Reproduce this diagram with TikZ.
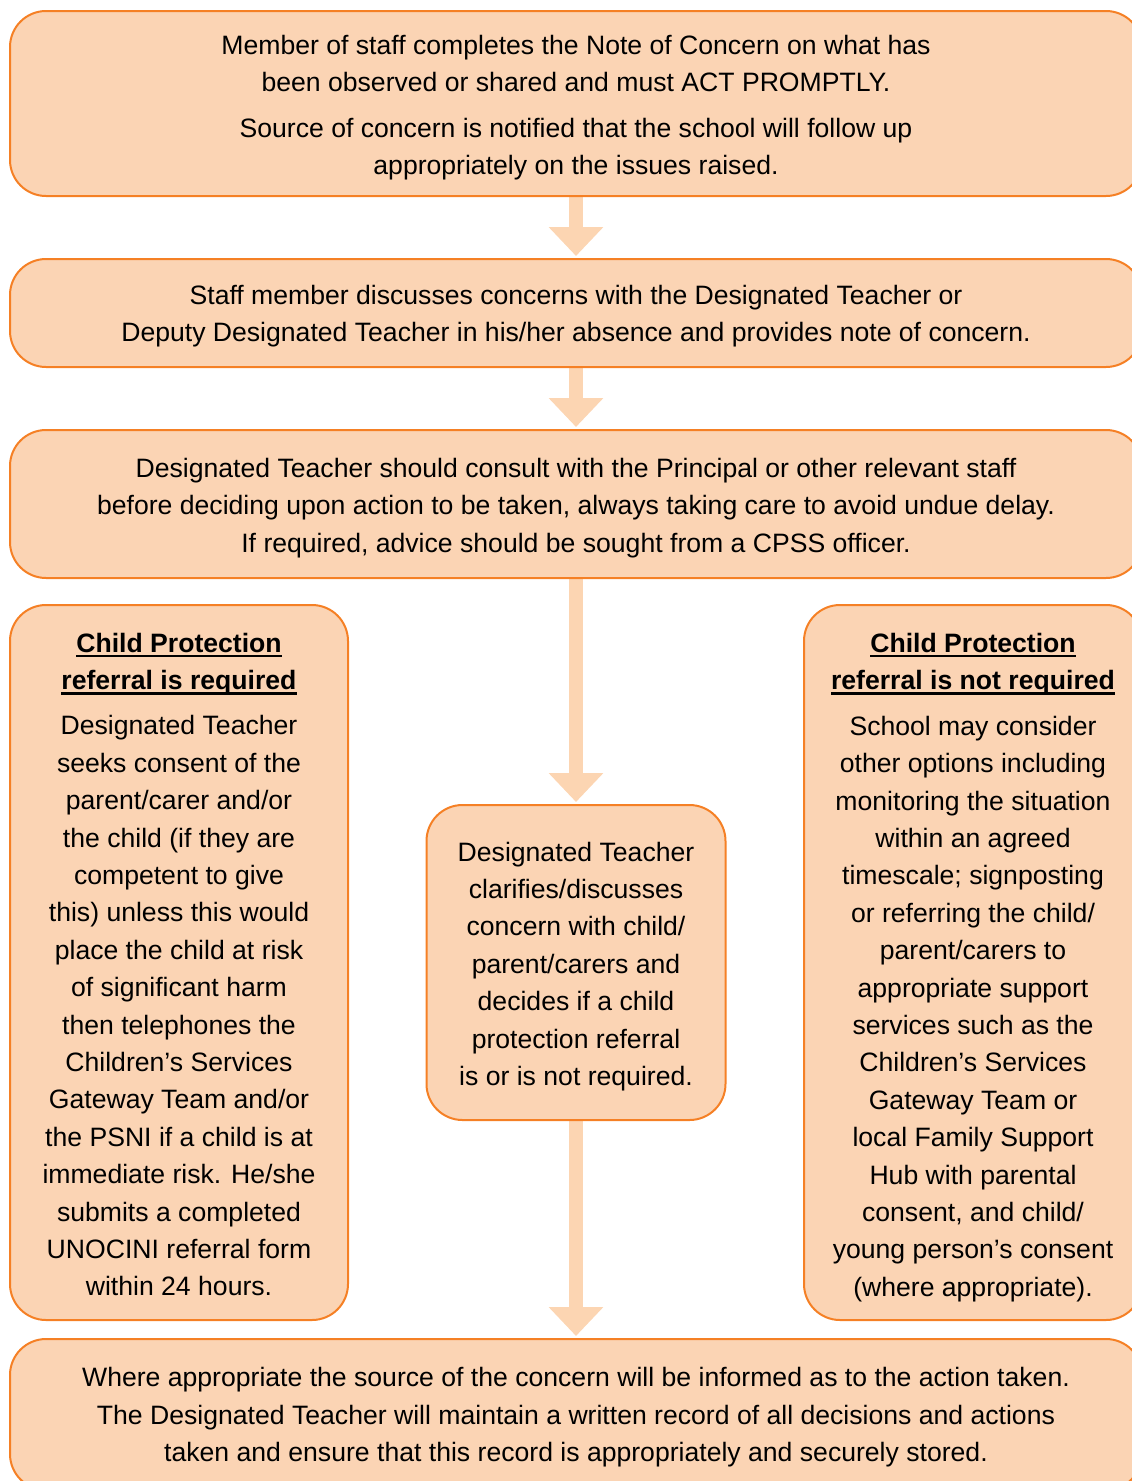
\documentclass[tikz,border=0pt]{standalone}
\usepackage{fontspec}
\setmainfont{Liberation Sans}
\usetikzlibrary{arrows.meta,backgrounds}
\definecolor{boxfill}{HTML}{FBD4B4}
\definecolor{boxline}{HTML}{F58025}
\definecolor{arrowfill}{HTML}{FCD5B2}
\newcommand{\hd}[1]{\setbox0\hbox{\textbf{#1}}\rlap{\copy0}\vrule width\wd0 height -2.5pt depth 5pt\relax}
\begin{document}
\begin{tikzpicture}[x=1pt,y=-1pt,
  box/.style={draw=boxline, fill=boxfill, line width=2pt, rounded corners=36pt, inner sep=0pt},
  txt/.style={align=center, inner sep=0pt, font=\fontsize{26.6}{37.4}\selectfont},
  flow/.style={draw=arrowfill, line width=14pt,
    -{Triangle[width=53pt,length=29pt,fill=arrowfill]}, shorten >=2pt}]
\useasboundingbox (0,0) rectangle (1132,1481);
\clip (0,0) rectangle (1132,1481);

\node[box, minimum width=1132pt, minimum height=185pt] (b1) at (576,103.5) {};
\node[txt] (t1) at ([yshift=-4pt]b1.center)
  {Member of staff completes the Note of Concern on what has\\
   been observed or shared and must ACT PROMPTLY.\\[8pt]
   Source of concern is notified that the school will follow up\\
   appropriately on the issues raised.};

\node[box, minimum width=1132pt, minimum height=108pt] (b2) at (576,313) {};
\node[txt] (t2) at ([yshift=-3pt]b2.center)
  {Staff member discusses concerns with the Designated Teacher or\\
   Deputy Designated Teacher in his/her absence and provides note of concern.};

\node[box, minimum width=1132pt, minimum height=148pt] (b3) at (576,504) {};
\node[txt] (t3) at ([yshift=-4pt]b3.center)
  {Designated Teacher should consult with the Principal or other relevant staff\\
   before deciding upon action to be taken, always taking care to avoid undue delay.\\
   If required, advice should be sought from a CPSS officer.};

\node[box, minimum width=338pt, minimum height=715pt] (bl) at (179,962.5) {};
\node[txt] (tl) at ([yshift=-2pt]bl.center)
  {\hd{Child Protection}\\
   \hd{referral is required}\\[8pt]
   Designated Teacher\\
   seeks consent of the\\
   parent/carer and/or\\
   the child (if they are\\
   competent to give\\
   this) unless this would\\
   place the child at risk\\
   of significant harm\\
   then telephones the\\
   Children’s Services\\
   Gateway Team and/or\\
   the PSNI if a child is at\\
   immediate risk. He/she\\
   submits a completed\\
   UNOCINI referral form\\
   within 24 hours.};

\node[box, minimum width=299pt, minimum height=315pt] (bc) at (576,962.5) {};
\node[txt] (tc) at ([yshift=-4pt]bc.center)
  {Designated Teacher\\
   clarifies/discusses\\
   concern with child/\\
   parent/carers and\\
   decides if a child\\
   protection referral\\
   is or is not required.};

\node[box, minimum width=338pt, minimum height=715pt] (br) at (973,962.5) {};
\node[txt] (tr) at ([yshift=-5pt]br.center)
  {\hd{Child Protection}\\
   \hd{referral is not required}\\[8pt]
   School may consider\\
   other options including\\
   monitoring the situation\\
   within an agreed\\
   timescale; signposting\\
   or referring the child/\\
   parent/carers to\\
   appropriate support\\
   services such as the\\
   Children’s Services\\
   Gateway Team or\\
   local Family Support\\
   Hub with parental\\
   consent, and child/\\
   young person’s consent\\
   (where appropriate).};

\node[box, minimum width=1132pt, minimum height=151pt] (b5) at (576,1414.5) {};
\node[txt] (t5) at ([yshift=-3pt]b5.center)
  {Where appropriate the source of the concern will be informed as to the action taken.\\
   The Designated Teacher will maintain a written record of all decisions and actions\\
   taken and ensure that this record is appropriately and securely stored.};

\begin{scope}[on background layer]
\draw[flow] (b1.south) -- (b2.north);
\draw[flow] (b2.south) -- (b3.north);
\draw[flow] (b3.south) -- (bc.north);
\draw[flow] (bc.south) -- (b5.north);
\end{scope}
\end{tikzpicture}
\end{document}
